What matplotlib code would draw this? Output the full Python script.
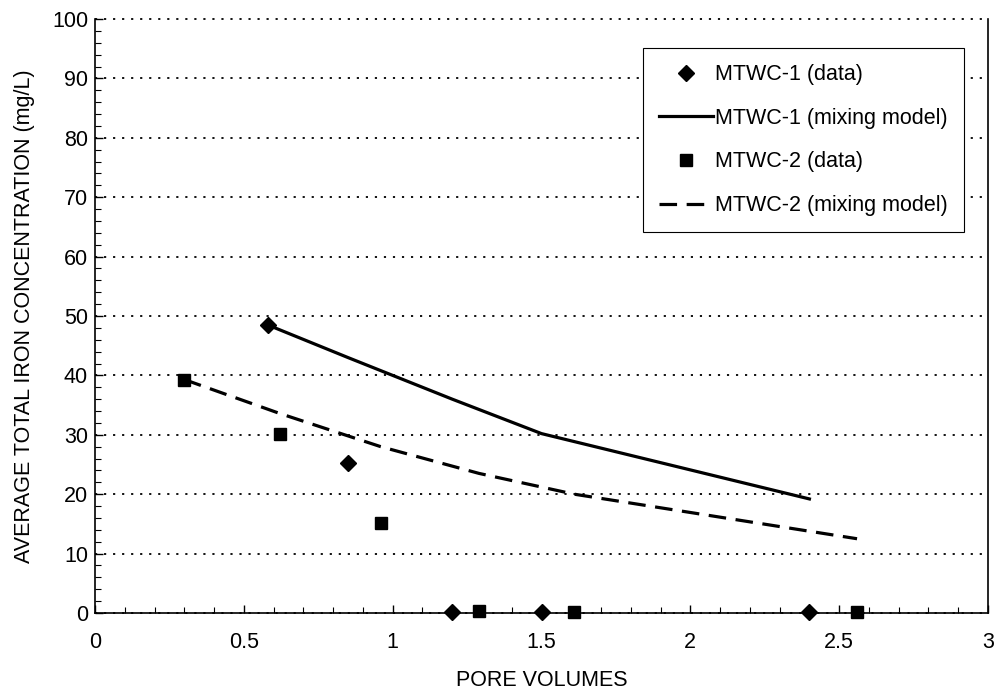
import matplotlib.pyplot as plt
from matplotlib.ticker import MultipleLocator

plt.rcParams['font.family'] = ['Liberation Sans', 'DejaVu Sans']
fsize = 15.5

# MTWC-1
pv1 = [0.58, 0.85, 1.2, 1.5, 2.4]
fe1 = [48.5, 25.2, 0.2, 0.1, 0.1]
model1 = [48.5, 43.0, 36.0, 30.2, 19.2]

# MTWC-2
pv2 = [0.3, 0.62, 0.96, 1.29, 1.61, 2.56]
fe2 = [39.2, 30.2, 15.2, 0.4, 0.2, 0.2]
model2 = [39.3, 33.6, 28.0, 23.5, 20.0, 12.5]

xticks = [0, 0.5, 1, 1.5, 2, 2.5, 3]
xticklabels = ['0', '0.5', '1', '1.5', '2', '2.5', '3']

fig = plt.figure(figsize=(9.98, 6.91), dpi=100)
# margins in figure fraction
ax = fig.add_axes([0.0952, 0.1129, 0.8948, 0.8596])

ax.plot(pv1, fe1, 'D', color='black', markersize=8.5, label='MTWC-1 (data)', clip_on=False, zorder=5)
ax.plot(pv1, model1, '-', color='black', linewidth=2.3, label='MTWC-1 (mixing model)')
ax.plot(pv2, fe2, 's', color='black', markersize=8.5, label='MTWC-2 (data)', clip_on=False, zorder=5)
ax.plot(pv2, model2, '--', color='black', linewidth=2.3, dashes=(5.5, 3), label='MTWC-2 (mixing model)')

ax.set_xlim(0, 3)
ax.set_ylim(0, 100)
ax.set_xticks(xticks)
ax.set_xticklabels(xticklabels)
ax.xaxis.set_minor_locator(MultipleLocator(0.1))
ax.yaxis.set_major_locator(MultipleLocator(10))
ax.yaxis.set_minor_locator(MultipleLocator(2))
ax.tick_params(which='both', direction='in', labelsize=fsize, top=False, right=False)
ax.tick_params(which='major', length=6, width=1)
ax.tick_params(which='minor', length=4, width=0.8)
ax.tick_params(axis='x', which='major', pad=14)
ax.tick_params(axis='y', which='major', pad=5)

ax.yaxis.grid(True, which='major', linestyle=(0, (1.2, 3.8)), color='black', linewidth=1.3)
ax.set_axisbelow(True)
for line in ax.get_ygridlines():
    line.set_clip_on(False)
ax.spines['top'].set_visible(False)
for s in ['left', 'bottom', 'right']:
    ax.spines[s].set_linewidth(1.2)

ax.set_xlabel('PORE VOLUMES', fontsize=fsize, labelpad=12)
ax.set_ylabel('AVERAGE TOTAL IRON CONCENTRATION (mg/L)', fontsize=fsize, labelpad=12)

leg = ax.legend(loc='upper left', bbox_to_anchor=(0.614, 0.951), fontsize=fsize,
                frameon=True, fancybox=False, edgecolor='black', framealpha=1,
                handlelength=2.5, handletextpad=0.1, labelspacing=1.05,
                borderpad=0.75, borderaxespad=0)
leg.get_frame().set_linewidth(0.8)

plt.savefig('out.png', dpi=100)
